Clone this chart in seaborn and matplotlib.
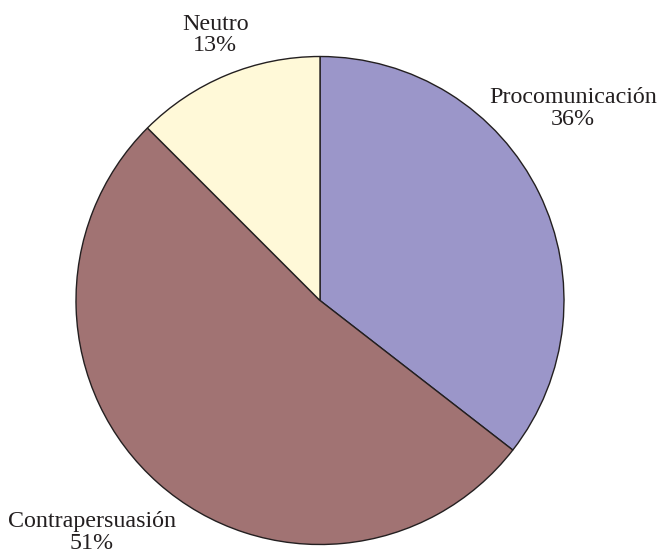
import matplotlib
matplotlib.use('Agg')
import matplotlib.pyplot as plt
import seaborn as sns

# Datos
categorias = ['Procomunicación', 'Contrapersuasión', 'Neutro']
porcentajes = [36, 51, 13]           # valores impresos en las etiquetas
tamanos = [35.5, 52.0, 12.5]         # tamaño de los sectores medido en la figura

COLOR_TEXTO = '#231F20'
colores = sns.color_palette(['#9B96C9', '#A17373', '#FFF9D8'])

sns.set_theme(style="white")
plt.rcParams['font.family'] = ['Liberation Serif', 'DejaVu Serif']
plt.rcParams['text.color'] = COLOR_TEXTO

fig = plt.figure(figsize=(6.58, 5.53), dpi=100)
# centro (320, 300.5) px, radio 244 px
ax = fig.add_axes([76 / 658, 8.5 / 553, 488 / 658, 488 / 553])

wedges, textos = ax.pie(
    tamanos, colors=colores, startangle=90, counterclock=False,
    labels=[f'{c}\n{p}%' for c, p in zip(categorias, porcentajes)],
    wedgeprops={'edgecolor': '#231F20', 'linewidth': 1.0},
    textprops={'fontsize': 17.3, 'color': COLOR_TEXTO, 'ha': 'center', 'va': 'center',
               'linespacing': 1.05},
)

# Posición de las etiquetas como en la figura original
posiciones = {'Procomunicación': (1.037, 0.788),
              'Contrapersuasión': (-0.934, -0.952),
              'Neutro': (-0.43, 1.088)}
for t, c in zip(textos, categorias):
    t.set_position(posiciones[c])
    t.set_horizontalalignment('center')
    t.set_verticalalignment('center')

ax.set_xlim(-1, 1)
ax.set_ylim(-1, 1)
ax.set_aspect('equal')
ax.axis('off')

fig.savefig('out.png', dpi=100)
